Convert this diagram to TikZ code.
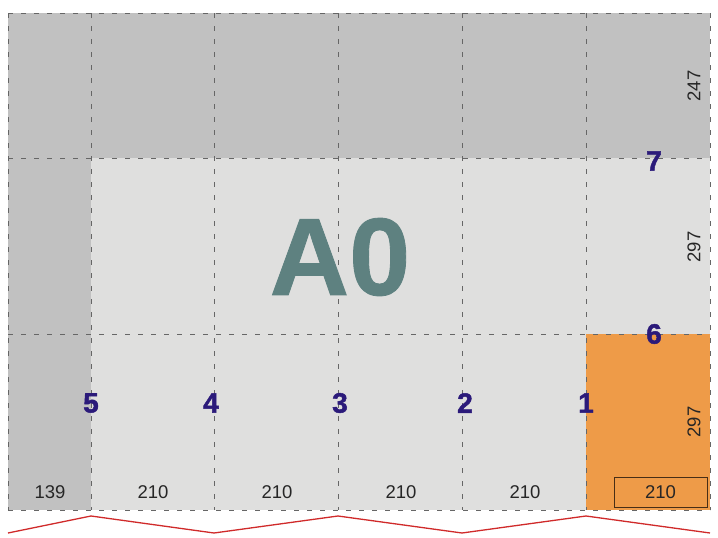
\documentclass[tikz,border=0pt]{standalone}
\usepackage{fontspec}
\setmainfont{Liberation Sans}
\newfontfamily\heavyfont[BoldFeatures={FakeBold=1.6}]{Liberation Sans}
\newfontfamily\formatfont[BoldFeatures={FakeBold=0.8}]{Liberation Sans}
\definecolor{darkpaper}{HTML}{C1C1C1}
\definecolor{lightpaper}{HTML}{DFDFDE}
\definecolor{sheetorange}{HTML}{EE9B48}
\definecolor{formatgreen}{HTML}{5E8180}
\definecolor{foldblue}{HTML}{2B1A7A}
\definecolor{foldred}{HTML}{D02A2A}

\begin{document}
\begin{tikzpicture}[x=1pt, y=-1pt,
    fold/.style={dash pattern=on 5pt off 8pt, color=black!60, line width=0.9pt},
    foldno/.style={font=\heavyfont\bfseries\fontsize{28}{28}\selectfont, color=foldblue},
    size/.style={font=\fontsize{18.5}{18.5}\selectfont, color=black!85},
    vsize/.style={size, rotate=90}]
    \useasboundingbox (0,0) rectangle (718,538);
    % paper areas
    \fill [lightpaper] (8,13) rectangle (710,510);
    \fill [darkpaper] (8,13) rectangle (710,158);
    \fill [darkpaper] (8,158) rectangle (91,510);
    \fill [sheetorange] (586,334) rectangle (710,510);
    % fold lines
    \foreach \x in {8,91,214,338,462,586,710}
        \draw [fold] (\x,13) -- (\x,510);
    \foreach \y in {13,158,334,510}
        \draw [fold] (8,\y) -- (710,\y);
    % format
    \node (format) at (340,257) {\formatfont\bfseries\fontsize{110}{110}\selectfont\color{formatgreen}A0};
    % fold numbers
    \node [foldno] (f1) at (586,403) {1};
    \node [foldno] (f2) at (465,403) {2};
    \node [foldno] (f3) at (340,403) {3};
    \node [foldno] (f4) at (211,403) {4};
    \node [foldno] (f5) at (91,403) {5};
    \node [foldno] (f6) at (654,334) {6};
    \node [foldno] (f7) at (654,161) {7};
    % sizes
    \node [size] (w0) at (50,492) {139};
    \node [size] (w1) at (153,492) {210};
    \node [size] (w2) at (277,492) {210};
    \node [size] (w3) at (401,492) {210};
    \node [size] (w4) at (525,492) {210};
    \node [size, draw=black!70!sheetorange, line width=0.7pt, minimum width=93pt, minimum height=30pt, inner sep=0pt] (w5) at (660.5,492) {210};
    \node [vsize] (h1) at (694,86) {247};
    \node [vsize] (h2) at (694,247) {297};
    \node [vsize] (h3) at (694,422) {297};
    % zigzag
    \coordinate (z0) at (8,533);
    \coordinate (z1) at (91,516);
    \coordinate (z2) at (214,533);
    \coordinate (z3) at (338,516);
    \coordinate (z4) at (462,533);
    \coordinate (z5) at (586,516);
    \coordinate (z6) at (710,533);
    \draw [foldred, line width=1.3pt] (z0) -- (z1) -- (z2) -- (z3) -- (z4) -- (z5) -- (z6);
\end{tikzpicture}
\end{document}
